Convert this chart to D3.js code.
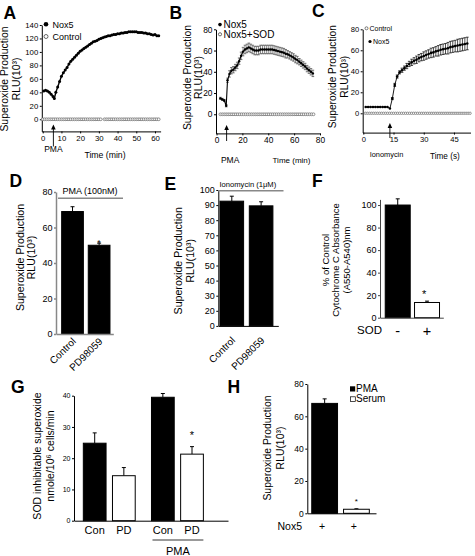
<!DOCTYPE html>
<html><head><meta charset="utf-8">
<script src="https://cdn.jsdelivr.net/npm/d3@7"></script>
<style>body{margin:0;background:#fff}svg{display:block}</style>
</head><body><svg id="c" width="475" height="556"></svg>
<script>
// ================= DATA =================
// Panel A
const aTime = [0.5,1.5,2.5,3.5,4.5,5.5,6.2,7,8,9,10,11,12,13,14,15,16,17,18,19,20,21,22,23,24,25,26,27,28,29,30,31,32,33,34,35,36,37,38,39,40,41,42,43,44,45,46,47,48,49,50,51,52,53,54,55,56,57,58,59,60,61,62];
const aNox5 = [42,43,42,40,37,34,31,40,48,56,64,69,73,77,82,86,89,92,95,98,101,103,105,107,109,111,113,115,116,117,119,120,121,122,123,124,124,125,126,126,127,127,128,128,129,129,130,130,130,130,130,129,129,129,128,128,127,127,126,125,126,124,124];
const aCtrlTime = [0,1,2,3,4,5,6,7,8,9,10,11,12,13,14,15,16,17,18,19,20,21,22,23,24,25,26,27,28,29,30,31,33,34,35,36,37,38,39,40,41,42,43,44,45,46,47,48,49,50,51,52,53,54,55,56,57,58,59,60,61,62];
const aCtrl = [0,0,0,0,0,0,0,0,0,0,0,0,0,0,0,0,0,0,0,0,0,0,0,0,0,0,0,0,0,0,0,0,0,0,0,0,0,0,0,0,0,0,0,0,0,0,0,0,0,0,0,0,0,0,0,0,0,0,0,0,0,0];
const aXTicks = [0,10,20,30,40,50,60];
const aYTicks = [0,20,40,60,80,100,120,140];

// Panel B
const bTime = [3,4.5,6,7.5,8.5,10,11.5,13,14.5,16,17.5,19,20.5,22,23.5,25,26.5,28,29.5,31,32.5,34,35.5,37,38.5,40,41.5,43,44.5,46,47.5,49,50.5,52,53.5,55,56.5,58,59.5,61,62.5,64,65.5,67,68.5,70,71.5,73,74.5];
const bNox5 = [15,14,13,8,32,38,41,42,44,46,50,55,59,61,62,63,62,61,60,60,60,61,61,61,61,61,61,61,60.5,60,59.5,59,58.5,58,57,56.5,55.5,54.5,53.5,52,51,49.5,48,46.5,45,43,41.5,40,38.5];
const bErr = [1,1,1,1,2,3,3,3,3,3,3,3.5,4,4,4,4,4,4,4,4,4,4,4,4,4,4,4,4,4,4,4,4,4,4,4,3.5,3.5,3.5,3.5,3.5,3.5,3,3,3,3,3,3,3,3];
const bSodTime = [3,4.5,6,7.5,9,10.5,12,13.5,15,16.5,18,19.5,21,22.5,24,25.5,27,28.5,30,31.5,33,34.5,36,37.5,39,40.5,42,43.5,45,46.5,48,49.5,51,52.5,54,55.5,57,58.5,60,61.5,63,64.5,66,67.5,69,70.5,72,73.5,75];
const bSod = [0,0,0,0,0,0,0,0,0,0,0,0,0,0,0,0,0,0,0,0,0,0,0,0,0,0,0,0,0,0,0,0,0,0,0,0,0,0,0,0,0,0,0,0,0,0,0,0,0];
const bXTicks = [0,20,40,60,80];
const bYTicks = [0,20,40,60,80];

// Panel C
const cTime = [1.2,2.4,3.6,4.8,6,7.2,8.4,9.6,10.8,12,13.2,14.4,15.6,16.8,18,19.2,20.4,21.6,22.8,24,25.2,26.4,27.6,28.8,30,31.2,32.4,33.6,34.8,36,37.2,38.4,39.6,40.8,42,43.2,44.4,45.6,46.8,48,49.2,50.4,51.6];
const cNox5 = [6,6,6,6,6,6,6,6,6,6,4.5,14,27,35,39,41,43,45,47,48.5,50,51,52.5,53.5,54.5,55.5,56.5,57.5,58,59,59.5,60.5,61,61.5,62,63,63.5,64,64.5,65,65.5,66,66.5];
const cErr = [0,0,0,0,0,0,0,0,0,0,0,1,1.5,1.5,1.5,2,2,2.5,2.5,3,3,3.5,3.5,3.5,4,4,4,4.5,4.5,4.5,5,5,5,5,5.5,5.5,5.5,5.5,6,6,6,6,6];
const cCtrlTime = [1,2,3,4,5,6,7,8,9,10,11,12,13,14,15,16,17,18,19,20,21,22,23,24,25,26,27,28,29,30,31,32,33,34,35,36,37,38,39,40,41,42,43,44,45,46,47,48,49,50,51,52,53];
const cCtrl = [0,0,0,0,0,0,0,0,0,0,0,0,0,0,0,0,0,0,0,0,0,0,0,0,0,0,0,0,0,0,0,0,0,0,0,0,0,0,0,0,0,0,0,0,0,0,0,0,0,0,0,0,0];
const cXTicks = [0,15,30,45];
const cYTicks = [0,20,40,60,80];

// Panel D
const dCats = ["Control","PD98059"];
const dVals = [69,50];
const dErr = [2.7,1.2];
const dYTicks = [0,20,40,60,80];

// Panel E
const eCats = ["Control","PD98059"];
const eVals = [92.6,89.5];
const eErr = [3.3,2.7];
const eYTicks = [10,20,30,40,50,60,70,80,90,100];
const eYLabels = ["0","20","30","40","50","60","70","80","90","100"];

// Panel F
const fCats = ["-","+"];
const fVals = [100,13.5];
const fErr = [5.5,1.2];
const fYTicks = [0,20,40,60,80,100];

// Panel G
const gGroups = ["basal","PMA"];
const gCats = ["Con","PD"];
const gVals = [24.8,14.4,39.5,21.3];
const gErr = [3.3,2.6,1.2,2.4];
const gYTicks = [0,10,20,30,40];

// Panel H
const hCats = ["PMA","Serum"];
const hVals = [68,2.5];
const hErr = [2.8,0.3];
const hYTicks = [0,20,40,60,80];

// ================= HELPERS =================
const FONT = '"Liberation Sans", Arial, Helvetica, sans-serif';
const svg = d3.select("#c").attr("font-family", FONT);

function text(g, x, y, s, o = {}) {
  const t = g.append("text").attr("x", x).attr("y", y).text(s)
    .attr("font-size", o.fs || 9).attr("text-anchor", o.anchor || "start").attr("fill", o.fill || "#000");
  if (o.rot) t.attr("transform", `rotate(${o.rot},${x},${y})`);
  if (o.bold) t.attr("font-weight", "bold");
  return t;
}
function label(x, y, s) { text(svg, x, y, s, {fs: 17.5, bold: true}); }
function yTitle(g, xs, cy, lines, fs) {
  lines.forEach((l, i) => text(g, xs[i], cy, l, {fs, anchor: "middle", rot: -90}));
}
function styleAxis(a, o) {
  a.attr("font-family", FONT).attr("font-size", o.fs || 8);
  a.selectAll("text").attr("fill", "#000");
  a.select(".domain").attr("stroke", o.color || "#000").attr("stroke-width", o.sw || 1);
  a.selectAll(".tick line").attr("stroke", o.color || "#000").attr("stroke-width", o.sw || 1);
}
function leftAxis(g, y, x, ticks, o = {}) {
  const ax = d3.axisLeft(y).tickValues(ticks).tickSizeInner(o.ts ?? 2).tickSizeOuter(0).tickPadding(o.tp ?? 1.5);
  if (o.fmt) ax.tickFormat(o.fmt);
  const a = g.append("g").attr("transform", `translate(${x},0)`).call(ax);
  styleAxis(a, o);
  return a;
}
function bottomAxis(g, xs, y, ticks, o = {}) {
  const ax = d3.axisBottom(xs).tickValues(ticks).tickSizeInner(o.ts ?? 2).tickSizeOuter(0).tickPadding(o.tp ?? 2);
  const a = g.append("g").attr("transform", `translate(0,${y})`).call(ax);
  styleAxis(a, o);
  return a;
}
function arrow(g, x, yTip, yEnd) {
  g.append("line").attr("x1", x).attr("x2", x).attr("y1", yTip + 3).attr("y2", yEnd)
    .attr("stroke", "#000").attr("stroke-width", 0.9);
  g.append("path").attr("d", `M${x},${yTip}L${x - 2.3},${yTip + 5}L${x + 2.3},${yTip + 5}Z`).attr("fill", "#000");
}
function errBar(g, x, y0, y1, cap, color, sw) {
  g.append("line").attr("x1", x).attr("x2", x).attr("y1", y0).attr("y2", y1).attr("stroke", color).attr("stroke-width", sw);
  g.append("line").attr("x1", x - cap / 2).attr("x2", x + cap / 2).attr("y1", y1).attr("y2", y1).attr("stroke", color).attr("stroke-width", sw);
}
function bars(g, xb, y, cats, vals, errs, fills, base, o = {}) {
  cats.forEach((c, i) => {
    const cx = xb(c) + xb.bandwidth() / 2;
    errBar(g, cx, y(vals[i]), y(vals[i] + errs[i]), o.cap || 4, "#000", 1);
    g.append("rect").attr("x", xb(c)).attr("width", xb.bandwidth())
      .attr("y", y(vals[i])).attr("height", y(base) - y(vals[i]))
      .attr("fill", fills[i]).attr("stroke", "#000").attr("stroke-width", 1);
  });
}

// ================= PANEL A =================
{
  const g = svg.append("g");
  const x = d3.scaleLinear().domain([-0.5, 63]).range([41.8, 160.6]);
  const y = d3.scaleLinear().domain([-18, 140]).range([131.4, 25]);
  leftAxis(g, y, 41.8, aYTicks, {fs: 7.8});
  bottomAxis(g, x, 131.4, aXTicks, {fs: 7.8});
  g.selectAll(null).data(aCtrlTime).join("circle")
    .attr("cx", d => x(d)).attr("cy", (d, i) => y(aCtrl[i])).attr("r", 1.4)
    .attr("fill", "#fff").attr("stroke", "#666").attr("stroke-width", 0.7);
  const pts = aTime.map((t, i) => [t, aNox5[i]]);
  g.append("path").attr("d", d3.line().x(d => x(d[0])).y(d => y(d[1]))(pts))
    .attr("fill", "none").attr("stroke", "#000").attr("stroke-width", 1.4);
  g.selectAll(null).data(pts).join("circle")
    .attr("cx", d => x(d[0])).attr("cy", d => y(d[1])).attr("r", 1.5).attr("fill", "#000");
  arrow(g, x(5.7), 124.5, 146.5);
  text(g, x(5.7), 152, "PMA", {fs: 8.5, anchor: "middle"});
  text(g, 105, 158, "Time (min)", {fs: 8.7, anchor: "middle"});
  g.append("circle").attr("cx", 46).attr("cy", 24.3).attr("r", 2.3).attr("fill", "#000");
  text(g, 52.5, 27.5, "Nox5", {fs: 9});
  g.append("circle").attr("cx", 46).attr("cy", 36.5).attr("r", 2).attr("fill", "#fff").attr("stroke", "#444").attr("stroke-width", 0.8);
  text(g, 52.5, 39.7, "Control", {fs: 9});
  yTitle(g, [8.3, 19.5], 79, ["Superoxide Production", "RLU(10³)"], 10.4);
  label(3.5, 19.3, "A");
}

// ================= PANEL B =================
{
  const g = svg.append("g");
  const x = d3.scaleLinear().domain([-0.4, 80]).range([216, 320]);
  const y = d3.scaleLinear().domain([-18, 80]).range([133.4, 29.3]);
  leftAxis(g, y, 216, bYTicks, {fs: 8.4});
  bottomAxis(g, x, 133.4, bXTicks, {fs: 8.4});
  g.selectAll(null).data(bSodTime).join("circle")
    .attr("cx", d => x(d)).attr("cy", (d, i) => y(bSod[i])).attr("r", 1.4)
    .attr("fill", "#fff").attr("stroke", "#666").attr("stroke-width", 0.7);
  bTime.forEach((t, i) => {
    const cx = x(t);
    g.append("line").attr("x1", cx).attr("x2", cx).attr("y1", y(bNox5[i] - bErr[i])).attr("y2", y(bNox5[i] + bErr[i]))
      .attr("stroke", "#777").attr("stroke-width", 0.9);
    [bNox5[i] - bErr[i], bNox5[i] + bErr[i]].forEach(v =>
      g.append("line").attr("x1", cx - 1.3).attr("x2", cx + 1.3).attr("y1", y(v)).attr("y2", y(v)).attr("stroke", "#555").attr("stroke-width", 0.8));
  });
  const pts = bTime.map((t, i) => [t, bNox5[i]]);
  g.append("path").attr("d", d3.line().x(d => x(d[0])).y(d => y(d[1]))(pts))
    .attr("fill", "none").attr("stroke", "#000").attr("stroke-width", 1.1);
  g.selectAll(null).data(pts).join("circle")
    .attr("cx", d => x(d[0])).attr("cy", d => y(d[1])).attr("r", 1.2).attr("fill", "#000");
  arrow(g, x(7.8), 125, 141);
  text(g, x(10.5), 163, "PMA", {fs: 8.5, anchor: "middle"});
  text(g, 291.5, 163, "Time (min)", {fs: 8, anchor: "middle"});
  g.append("circle").attr("cx", 220).attr("cy", 24.6).attr("r", 1.8).attr("fill", "#000");
  text(g, 223.5, 28, "Nox5", {fs: 10});
  g.append("circle").attr("cx", 220).attr("cy", 34.3).attr("r", 1.6).attr("fill", "#fff").attr("stroke", "#444").attr("stroke-width", 0.8);
  text(g, 223.5, 37.6, "Nox5+SOD", {fs: 10});
  yTitle(g, [190.5, 202], 77.5, ["Superoxide Production", "RLU(10³)"], 10.4);
  label(169.5, 19.3, "B");
}

// ================= PANEL C =================
{
  const g = svg.append("g");
  const x = d3.scaleLinear().domain([-0.3, 53.2]).range([362.7, 470.5]);
  const y = d3.scaleLinear().domain([-18.4, 80]).range([132.6, 29.3]);
  leftAxis(g, y, 362.7, cYTicks, {fs: 7.6});
  bottomAxis(g, x, 132.6, cXTicks, {fs: 7.6});
  g.selectAll(null).data(cCtrlTime).join("circle")
    .attr("cx", d => x(d)).attr("cy", (d, i) => y(cCtrl[i])).attr("r", 1.2)
    .attr("fill", "#fff").attr("stroke", "#555").attr("stroke-width", 0.6);
  cTime.forEach((t, i) => {
    if (cErr[i] <= 0) return;
    const cx = x(t);
    g.append("line").attr("x1", cx).attr("x2", cx).attr("y1", y(cNox5[i] - cErr[i])).attr("y2", y(cNox5[i] + cErr[i]))
      .attr("stroke", "#000").attr("stroke-width", 0.7);
    [cNox5[i] - cErr[i], cNox5[i] + cErr[i]].forEach(v =>
      g.append("line").attr("x1", cx - 1.4).attr("x2", cx + 1.4).attr("y1", y(v)).attr("y2", y(v)).attr("stroke", "#000").attr("stroke-width", 0.7));
  });
  const pts = cTime.map((t, i) => [t, cNox5[i]]);
  g.append("path").attr("d", d3.line().x(d => x(d[0])).y(d => y(d[1]))(pts))
    .attr("fill", "none").attr("stroke", "#000").attr("stroke-width", 0.9);
  g.selectAll(null).data(pts).join("circle")
    .attr("cx", d => x(d[0])).attr("cy", d => y(d[1])).attr("r", 1.3).attr("fill", "#000");
  arrow(g, x(13.2), 123, 138);
  text(g, 386.5, 156.5, "Ionomycin", {fs: 7.4, anchor: "middle"});
  text(g, 430, 158.5, "Time (s)", {fs: 8.2, anchor: "start"});
  g.append("circle").attr("cx", 366.5).attr("cy", 28.3).attr("r", 1.5).attr("fill", "#fff").attr("stroke", "#444").attr("stroke-width", 0.7);
  text(g, 369.5, 30.8, "Control", {fs: 7});
  g.append("circle").attr("cx", 370).attr("cy", 41.5).attr("r", 1.6).attr("fill", "#000");
  text(g, 373, 44, "Nox5", {fs: 7});
  yTitle(g, [336.5, 348.5], 76.7, ["Superoxide Production", "RLU(10³)"], 10.2);
  label(312, 16.7, "C");
}

// ================= PANEL D =================
{
  const g = svg.append("g");
  const y = d3.scaleLinear().domain([0, 80]).range([334, 192]);
  const xb = d3.scaleBand().domain(dCats).range([56, 113.3]).paddingInner(0.184).paddingOuter(0.169).align(0.63);
  bars(g, xb, y, dCats, dVals, dErr, ["#000", "#000"], 0);
  leftAxis(g, y, 56, dYTicks, {fs: 9, color: "#888", sw: 1.5, ts: 2});
  bottomAxis(g, xb, 334, [], {color: "#888", sw: 1.5});
  dCats.forEach(c => text(g, xb(c) + xb.bandwidth() / 2 + 4, 342, c, {fs: 10, anchor: "end", rot: -45}));
  const pd = xb("PD98059") + xb.bandwidth() / 2;
  text(g, pd, y(dVals[1] + dErr[1]) + 2.5, "*", {fs: 9, anchor: "middle"});
  text(g, 90, 193.5, "PMA (100nM)", {fs: 9, anchor: "middle"});
  g.append("line").attr("x1", 58).attr("x2", 123).attr("y1", 198.3).attr("y2", 198.3).attr("stroke", "#888").attr("stroke-width", 1.5);
  yTitle(g, [24, 34.5], 257.5, ["Superoxide Production", "RLU(10³)"], 10.6);
  label(9.5, 186.7, "D");
}

// ================= PANEL E =================
{
  const g = svg.append("g");
  const y = d3.scaleLinear().domain([10, 100]).range([325.9, 190]);
  const xb = d3.scaleBand().domain(eCats).range([218.3, 278.3]).paddingInner(0.195).paddingOuter(0.121).align(0.24);
  bars(g, xb, y, eCats, eVals, eErr, ["#000", "#000"], 10);
  leftAxis(g, y, 218.3, eYTicks, {fs: 9, ts: 2, fmt: (d, i) => eYLabels[i]});
  bottomAxis(g, xb, 325.9, []);
  eCats.forEach(c => text(g, xb(c) + xb.bandwidth() / 2 + 4, 341, c, {fs: 10, anchor: "end", rot: -45}));
  text(g, 219.5, 186.5, "Ionomycin (1μM)", {fs: 7.6, anchor: "start"});
  g.append("line").attr("x1", 218).attr("x2", 283.5).attr("y1", 190.8).attr("y2", 190.8).attr("stroke", "#888").attr("stroke-width", 1.5);
  yTitle(g, [182, 194], 260.8, ["Superoxide Production", "RLU(10³)"], 10.6);
  label(164.5, 189.5, "E");
}

// ================= PANEL F =================
{
  const g = svg.append("g");
  const y = d3.scaleLinear().domain([0, 105]).range([317.7, 199.4]);
  const xb = d3.scaleBand().domain(fCats).range([380, 443.3]).paddingInner(0.147).paddingOuter(0.154).align(0.58);
  bars(g, xb, y, fCats, fVals, fErr, ["#000", "#fff"], 0);
  leftAxis(g, y, 380, fYTicks, {fs: 9, ts: 2, color: "#444"});
  bottomAxis(g, xb, 317.7, [], {color: "#444"});
  const pc = xb("+") + xb.bandwidth() / 2;
  text(g, pc - 3, y(fVals[1] + fErr[1]) - 3.5, "*", {fs: 11, anchor: "middle"});
  text(g, 382, 334, "SOD", {fs: 11.5, anchor: "end"});
  fCats.forEach(c => text(g, xb(c) + xb.bandwidth() / 2, 336, c === "-" ? "-" : "+", {fs: 14.5, anchor: "middle"}));
  yTitle(g, [328.5, 339, 349.5], 260, ["% of Control", "Cytochrome C Absorbance", "(A550-A540)nm"], 9.5);
  label(312, 186.7, "F");
}

// ================= PANEL G =================
{
  const g = svg.append("g");
  const y = d3.scaleLinear().domain([0, 40]).range([520.7, 395.7]);
  const xo = d3.scaleBand().domain(gGroups).range([73.3, 213.4]).paddingInner(0.1445).paddingOuter(0.1);
  const xi = d3.scaleBand().domain(gCats).range([0, xo.bandwidth()]).paddingInner(0.22).paddingOuter(0.11);
  const fills = ["#000", "#fff"];
  gGroups.forEach((grp, gi) => gCats.forEach((c, ci) => {
    const k = gi * gCats.length + ci;
    const bx = xo(grp) + xi(c), cx = bx + xi.bandwidth() / 2;
    errBar(g, cx, y(gVals[k]), y(gVals[k] + gErr[k]), 4, "#000", 1);
    g.append("rect").attr("x", bx).attr("width", xi.bandwidth()).attr("y", y(gVals[k]))
      .attr("height", y(0) - y(gVals[k])).attr("fill", fills[ci]).attr("stroke", "#000").attr("stroke-width", 1);
    text(g, cx, 534, c, {fs: 11, anchor: "middle"});
    if (gi === 1 && ci === 1) text(g, cx, y(gVals[k] + gErr[k]) - 7.5, "*", {fs: 11, anchor: "middle"});
  }));
  leftAxis(g, y, 74, gYTicks, {fs: 7, ts: 2});
  const xa = d3.scaleLinear().domain([0, 1]).range([74, 228]);
  bottomAxis(g, xa, 520.7, []);
  const pmaL = xo("PMA") + xi("Con") + 1, pmaR = xo("PMA") + xi("PD") + xi.bandwidth();
  g.append("line").attr("x1", pmaL).attr("x2", pmaR).attr("y1", 540).attr("y2", 540).attr("stroke", "#000").attr("stroke-width", 0.8);
  text(g, (pmaL + pmaR) / 2, 555, "PMA", {fs: 11, anchor: "middle"});
  yTitle(g, [41, 53.5], 456, ["SOD inhibitable superoxide", "nmole/10⁶ cells/min"], 10.5);
  label(11, 393.3, "G");
}

// ================= PANEL H =================
{
  const g = svg.append("g");
  const y = d3.scaleLinear().domain([0, 80]).range([513.3, 384]);
  const xb = d3.scaleBand().domain(hCats).range([307.3, 376]).paddingInner(0.189).paddingOuter(0.175).align(0.4);
  bars(g, xb, y, hCats, hVals, hErr, ["#000", "#fff"], 0);
  leftAxis(g, y, 307.3, hYTicks, {fs: 8.5, ts: 2});
  bottomAxis(g, xb, 513.3, []);
  const sc = xb("Serum") + xb.bandwidth() / 2;
  text(g, sc, y(hVals[1] + hErr[1]) - 5, "*", {fs: 8, anchor: "middle"});
  text(g, 302, 530, "Nox5", {fs: 10.5, anchor: "end"});
  hCats.forEach(c => text(g, xb(c) + xb.bandwidth() / 2 - 2.5, 530, "+", {fs: 10.5, anchor: "middle"}));
  g.append("rect").attr("x", 350).attr("y", 386.3).attr("width", 5.2).attr("height", 5.2).attr("fill", "#000");
  text(g, 356, 392, "PMA", {fs: 10});
  g.append("rect").attr("x", 350.5).attr("y", 396.8).attr("width", 4.8).attr("height", 4.8).attr("fill", "#fff").attr("stroke", "#000").attr("stroke-width", 0.7);
  text(g, 356, 402.3, "Serum", {fs: 10});
  yTitle(g, [270.5, 283.5], 448, ["Superoxide Production", "RLU(10³)"], 10.4);
  label(227.5, 393.3, "H");
}
</script></body></html>
